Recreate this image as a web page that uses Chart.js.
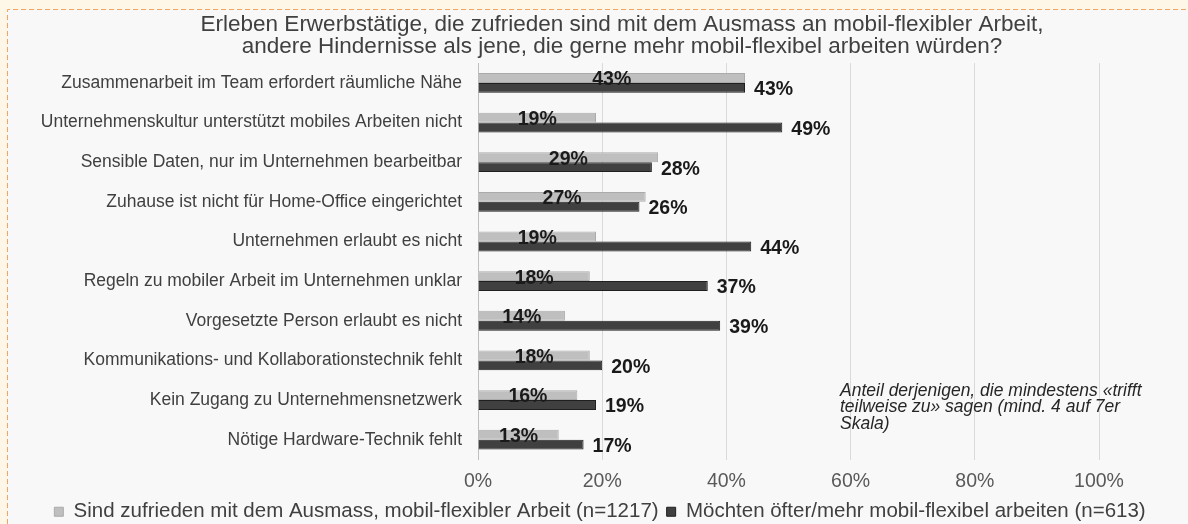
<!DOCTYPE html>
<html>
<head>
<meta charset="utf-8">
<script src="https://cdn.jsdelivr.net/npm/chart.js@4"></script>
<style>
  html, body { margin: 0; padding: 0; background: #FEF6E6; }
  canvas { display: block; }
</style>
</head>
<body>
<canvas id="barChart" width="1188" height="524"></canvas>
<script>
// --- DATEN --- //
const titleLines = [
  "Erleben Erwerbstätige, die zufrieden sind mit dem Ausmass an mobil-flexibler Arbeit,",
  "andere Hindernisse als jene, die gerne mehr mobil-flexibel arbeiten würden?"
];
const categories = [
  "Zusammenarbeit im Team erfordert räumliche Nähe",
  "Unternehmenskultur unterstützt mobiles Arbeiten nicht",
  "Sensible Daten, nur im Unternehmen bearbeitbar",
  "Zuhause ist nicht für Home-Office eingerichtet",
  "Unternehmen erlaubt es nicht",
  "Regeln zu mobiler Arbeit im Unternehmen unklar",
  "Vorgesetzte Person erlaubt es nicht",
  "Kommunikations- und Kollaborationstechnik fehlt",
  "Kein Zugang zu Unternehmensnetzwerk",
  "Nötige Hardware-Technik fehlt"
];
const seriesNames = [
  "Sind zufrieden mit dem Ausmass, mobil-flexibler Arbeit (n=1217)",
  "Möchten öfter/mehr mobil-flexibel arbeiten (n=613)"
];
const zufrieden = [43, 19, 29, 27, 19, 18, 14, 18, 16, 13];
const oefter = [43, 49, 28, 26, 44, 37, 39, 20, 19, 17];
const xTicks = [0, 20, 40, 60, 80, 100];
const noteLines = [
  "Anteil derjenigen, die mindestens «trifft",
  "teilweise zu» sagen (mind. 4 auf 7er",
  "Skala)"
];

const FONT = "'Liberation Sans', Arial, sans-serif";

// --- PLUGINS --- //
// Hintergrund mit gestricheltem Rahmen
const hintergrund = {
  id: "hintergrund",
  beforeDraw(chart) {
    const c = chart.ctx;
    c.save();
    c.fillStyle = "#FEF6E6";
    c.fillRect(0, 0, chart.width, chart.height);
    c.fillStyle = "#F8F8F8";
    c.fillRect(7, 9, chart.width - 7, chart.height - 9);
    c.strokeStyle = "#F2A55E";
    c.lineWidth = 1;
    c.setLineDash([5, 3]);
    c.beginPath();
    c.moveTo(7.5, chart.height);
    c.lineTo(7.5, 9.5);
    c.lineTo(chart.width, 9.5);
    c.stroke();
    c.restore();
  }
};

// Titel etwas nach rechts schieben
const titelVersatz = {
  id: "titelVersatz",
  afterLayout(chart) {
    if (chart.titleBlock) chart.titleBlock.left += 44;
  }
};

// Prozentwerte an den Balken
const wertLabels = {
  id: "wertLabels",
  afterDatasetsDraw(chart) {
    const c = chart.ctx;
    c.save();
    c.font = "bold 19.5px " + FONT;
    c.fillStyle = "#1A1A1A";
    c.textBaseline = "middle";
    chart.data.datasets.forEach((ds, i) => {
      chart.getDatasetMeta(i).data.forEach((bar, j) => {
        const txt = ds.data[j] + "%";
        if (i === 0) {
          c.textAlign = "center";
          c.fillText(txt, (bar.x + bar.base) / 2, bar.y + 2);
        } else {
          c.textAlign = "left";
          c.fillText(txt, bar.x + 9, bar.y + 2);
        }
      });
    });
    c.restore();
  }
};

// Anmerkung rechts unten
const anmerkung = {
  id: "anmerkung",
  afterDraw(chart) {
    const c = chart.ctx;
    c.save();
    c.font = "italic 17.5px " + FONT;
    c.fillStyle = "#262626";
    c.textBaseline = "middle";
    c.textAlign = "left";
    noteLines.forEach((t, k) => c.fillText(t, 840, 391 + k * 16.5));
    c.restore();
  }
};

// --- CHART --- //
new Chart(document.getElementById("barChart"), {
  type: "bar",
  data: {
    labels: categories,
    datasets: [
      { label: seriesNames[0], data: zufrieden, backgroundColor: "#BFBFBF", borderColor: "#ABABAB", borderWidth: 1, categoryPercentage: 0.5, barPercentage: 1 },
      { label: seriesNames[1], data: oefter, backgroundColor: "#404040", borderColor: "#1F1F1F", borderWidth: 1, categoryPercentage: 0.5, barPercentage: 1 }
    ]
  },
  options: {
    indexAxis: "y",
    responsive: false,
    animation: false,
    layout: { padding: { left: 12, right: 0, top: 0, bottom: -8 } },
    plugins: {
      title: {
        display: true,
        text: titleLines,
        color: "#404040",
        font: { family: FONT, size: 22.5, weight: "normal", lineHeight: 0.98 },
        padding: { top: 14, bottom: 5 }
      },
      legend: {
        position: "bottom",
        labels: { color: "#404040", boxWidth: 9, boxHeight: 9, padding: 8, font: { family: FONT, size: 20.5 } }
      },
      tooltip: { enabled: false }
    },
    scales: {
      x: {
        min: 0,
        max: 100,
        afterBuildTicks: s => { s.ticks = xTicks.map(v => ({ value: v })); },
        afterFit: s => { s.height = 34; },
        grid: { color: "#D9D9D9", drawTicks: false },
        border: { display: false },
        ticks: { padding: 10.6, color: "#595959", font: { family: FONT, size: 19.5, lineHeight: 1.2 }, callback: v => v + "%" }
      },
      y: {
        afterFit: s => { s.width = 466; },
        grid: { display: false, drawTicks: false },
        border: { color: "#BFBFBF" },
        ticks: { padding: 16, color: "#404040", font: { family: FONT, size: 17.5 } }
      },
      rechts: {
        type: "linear",
        position: "right",
        afterFit: s => { s.width = 89; },
        ticks: { display: false },
        grid: { display: false, drawTicks: false },
        border: { display: false }
      }
    }
  },
  plugins: [hintergrund, titelVersatz, wertLabels, anmerkung]
});
</script>
</body>
</html>
